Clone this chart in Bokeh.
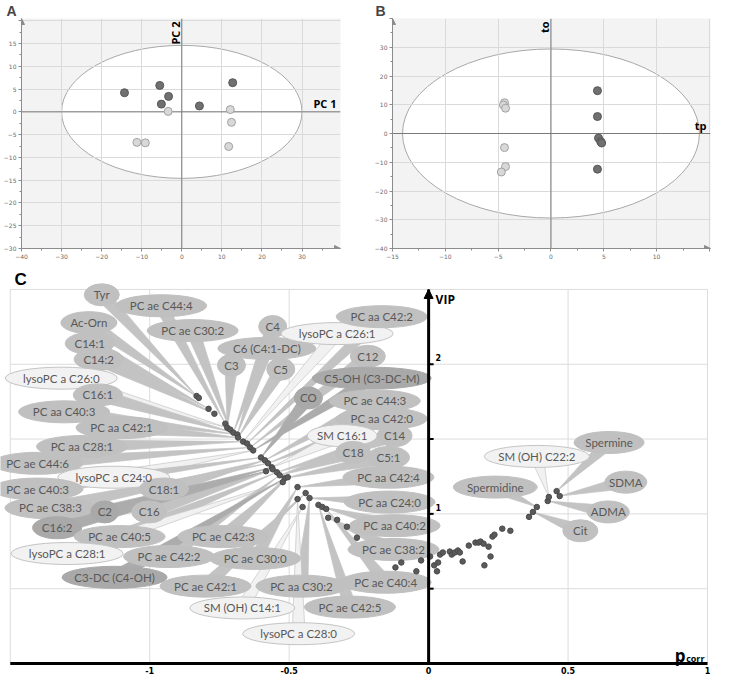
import math
from bokeh.plotting import figure
from bokeh.layouts import column, row
from bokeh.models import (Span, Arrow, NormalHead, SingleIntervalTicker, Range1d)
from bokeh.embed import file_html
from bokeh.resources import INLINE
from bokeh.core.properties import value

# ---------------- Panel A : PCA scores ----------------
a_dark_pc1 = [-14.3, -5.5, -3.3, -5.1, 4.4, 12.7]
a_dark_pc2 = [4.2, 5.8, 3.4, 1.7, 1.3, 6.4]
a_light_pc1 = [-3.4, -11.2, -9.1, 12.1, 12.4, 11.7]
a_light_pc2 = [0.1, -6.7, -6.8, 0.5, -2.3, -7.6]
a_t2 = [30.0, 14.6]          # Hotelling T2 ellipse semi-axes

# ---------------- Panel B : OPLS-DA scores ----------------
b_dark_tp = [4.4, 4.4, 4.5, 4.7, 4.8, 4.4]
b_dark_to = [14.9, 5.9, -1.6, -2.8, -3.3, -12.4]
b_light_tp = [-4.4, -4.5, -4.3, -4.4, -4.3, -4.7]
b_light_to = [10.7, 9.9, 8.8, -4.9, -11.5, -13.4]
b_t2 = [14.05, 29.4]

# ---------------- Panel C : VIP vs p(corr) ----------------
c_pcorr = [-0.832, -0.824, -0.789, -0.768, -0.729, -0.722, -0.711, -0.700, -0.686, -0.683,
           -0.665, -0.651, -0.640, -0.629, -0.601, -0.587, -0.576, -0.562, -0.559, -0.583,
           -0.544, -0.534, -0.516, -0.523, -0.505, -0.470, -0.441, -0.427, -0.470, -0.452,
           -0.395, -0.381, -0.367, -0.360, -0.328, -0.293, -0.257, -0.119, -0.098, -0.044,
           -0.027, 0.005, 0.020, 0.034, 0.030, 0.041, 0.051, 0.076, 0.083, 0.094,
           0.105, 0.112, 0.122, 0.144, 0.168, 0.179, 0.186, 0.197, 0.215, 0.222,
           0.200, 0.229, 0.236, 0.264, 0.293, 0.360, 0.374, 0.388, 0.427, 0.431,
           0.459, 0.470]
c_vip = [1.788, 1.775, 1.702, 1.669, 1.603, 1.576, 1.563, 1.543, 1.530, 1.510,
         1.483, 1.470, 1.444, 1.424, 1.377, 1.358, 1.338, 1.311, 1.298, 1.285,
         1.278, 1.258, 1.238, 1.212, 1.245, 1.179, 1.139, 1.106, 1.099, 1.046,
         1.060, 1.046, 1.033, 0.974, 0.960, 0.914, 0.841, 0.642, 0.675, 0.616,
         0.689, 0.715, 0.656, 0.675, 0.616, 0.728, 0.742, 0.748, 0.728, 0.742,
         0.755, 0.742, 0.682, 0.788, 0.808, 0.808, 0.815, 0.801, 0.781, 0.715,
         0.656, 0.848, 0.861, 0.901, 0.887, 0.980, 1.013, 1.046, 1.086, 1.113,
         1.152, 1.119]
c_xticks = [-1, -0.5, 0, 0.5, 1]
c_xtick_labels = ["-1", "-0.5", "0", "0.5", "1"]
c_xgrid = [-1.5, -1, -0.5, 0.5, 1]
c_ygrid = [0.5, 1, 1.5, 2, 2.5]
c_vip_ticks = [0.5, 1, 1.5, 2]
c_vip_tick_labels = [("1", 1), ("2", 2)]

label_names = ["Tyr", "PC ae C44:4", "Ac-Orn", "PC ae C30:2", "C14:1", "C14:2",
               "lysoPC a C26:0", "C16:1", "PC aa C40:3", "PC aa C42:1", "PC aa C28:1",
               "PC ae C44:6", "lysoPC a C24:0", "PC ae C40:3", "C18:1", "PC ae C38:3",
               "C2", "C16", "C16:2", "PC ae C40:5", "lysoPC a C28:1", "PC ae C42:2",
               "C3-DC (C4-OH)", "PC ae C42:3", "PC ae C30:0", "PC ae C42:1",
               "SM (OH) C14:1", "PC aa C30:2", "lysoPC a C28:0", "PC ae C42:5",
               "PC ae C40:4", "PC ae C38:2", "PC aa C40:2", "PC aa C24:0", "PC aa C42:4",
               "C4", "C6 (C4:1-DC)", "C3", "C5", "lysoPC a C26:1", "PC aa C42:2", "C12",
               "C5-OH (C3-DC-M)", "CO", "PC ae C44:3", "PC aa C42:0", "SM C16:1", "C14",
               "C18", "C5:1", "Spermine", "SM (OH) C22:2", "SDMA", "ADMA", "Spermidine", "Cit"]
label_target = [0, 4, 1, 6, 2, 3, 5, 7, 8, 9, 10, 12, 13, 14, 15, 16, 17, 18, 19, 20,
                23, 21, 22, 24, 25, 26, 29, 27, 28, 30, 32, 33, 31, 27, 25,
                7, 8, 5, 9, 10, 11, 12, 13, 14, 15, 16, 17, 20, 21, 22,
                70, 69, 71, 68, 67, 66]
# label anchor positions (layout, in data units)
label_x = [-1.172, -0.959, -1.218, -0.846, -1.215, -1.183, -1.317, -1.186, -1.307, -1.101,
           -1.243, -1.402, -1.129, -1.402, -0.949, -1.356, -1.161, -1.002, -1.332, -1.108,
           -1.296, -0.931, -1.126, -0.736, -0.622, -0.800, -0.668, -0.456, -0.466, -0.282,
           -0.154, -0.126, -0.122, -0.140, -0.144,
           -0.559, -0.580, -0.707, -0.530, -0.328, -0.168, -0.218, -0.204, -0.431, -0.193,
           -0.168, -0.310, -0.122, -0.271, -0.144,
           0.647, 0.388, 0.707, 0.644, 0.239, 0.544]
label_y = [2.464, 2.391, 2.278, 2.225, 2.139, 2.033, 1.907, 1.795, 1.682, 1.576,
           1.450, 1.338, 1.245, 1.166, 1.166, 1.040, 1.013, 1.013, 0.907, 0.848,
           0.735, 0.715, 0.576, 0.848, 0.702, 0.517, 0.371, 0.517, 0.199, 0.377,
           0.543, 0.762, 0.921, 1.079, 1.245,
           2.252, 2.106, 1.993, 1.967, 2.205, 2.318, 2.053, 1.907, 1.775, 1.755,
           1.636, 1.523, 1.523, 1.411, 1.377,
           1.477, 1.384, 1.212, 1.013, 1.179, 0.887]
dark_labels = {"C3-DC (C4-OH)", "C16:2", "CO", "C5-OH (C3-DC-M)", "C2"}

W, H_TOP, H_C = 714, 268, 408
AXC = "#8c8c8c"


def score_panel(letter, width, xr, yr, xint, yint, t2, dark, light, xname, yname,
                bl, br, title_off):
    p = figure(width=width, height=H_TOP, x_range=Range1d(*xr), y_range=Range1d(*yr),
               output_backend="svg", toolbar_location=None,
               min_border_left=bl, min_border_right=br, min_border_top=0,
               min_border_bottom=20, background_fill_color="#f3f3f3",
               border_fill_color="white", outline_line_color=None)
    p.title.text = letter
    p.title.align = "left"
    p.title.offset = title_off
    p.title.standoff = 0
    p.title.text_font = "Liberation Sans"
    p.title.text_font_style = "bold"
    p.title.text_font_size = "14px"
    e = p.ellipse(x=[0], y=[0], width=[2 * t2[0]], height=[2 * t2[1]],
                  fill_color="white", line_color="#a8a8a8", line_width=1)
    e.level = "image"
    p.xaxis.ticker = SingleIntervalTicker(interval=xint, num_minor_ticks=2)
    p.yaxis.ticker = SingleIntervalTicker(interval=yint, num_minor_ticks=2)
    p.xgrid.ticker = SingleIntervalTicker(interval=xint)
    p.ygrid.ticker = SingleIntervalTicker(interval=yint)
    for g in (p.xgrid, p.ygrid):
        g.grid_line_color = "#dadada"
        g.grid_line_width = 1
    for ax in (p.xaxis, p.yaxis):
        ax.axis_line_color = AXC
        ax.major_tick_line_color = AXC
        ax.minor_tick_line_color = AXC
        ax.major_tick_in = 0
        ax.major_tick_out = 3
        ax.minor_tick_in = 0
        ax.minor_tick_out = 2
        ax.major_label_text_font = "DejaVu Sans"
        ax.major_label_text_font_size = "6px"
        ax.major_label_text_color = "#6a6a6a"
        ax.major_label_standoff = 2
    # hide labels at the arrow ends
    top_hidden = math.floor(yr[1] / yint) * yint
    right_hidden = math.floor(xr[1] / xint) * xint
    p.yaxis.major_label_overrides = {top_hidden: ""} if top_hidden > yr[1] - yint * 0.3 else {}
    p.xaxis.major_label_overrides = {right_hidden: ""} if right_hidden > xr[1] - xint * 0.3 else {}
    for dim in ("width", "height"):
        s = Span(location=0, dimension=dim, line_color="#7a7a7a", line_width=1)
        s.level = "underlay"
        p.add_layout(s)
    # axis arrows
    p.add_layout(Arrow(end=NormalHead(size=6, fill_color=AXC, line_color=AXC),
                       x_start=xr[0], y_start=yr[1] - (yr[1] - yr[0]) * 0.02,
                       x_end=xr[0], y_end=yr[1], line_color=AXC, line_width=1))
    p.add_layout(Arrow(end=NormalHead(size=6, fill_color=AXC, line_color=AXC),
                       x_start=xr[1] - (xr[1] - xr[0]) * 0.02, y_start=yr[0],
                       x_end=xr[1], y_end=yr[0], line_color=AXC, line_width=1))
    p.scatter(dark[0], dark[1], size=8, fill_color="#707070", line_color="#575757")
    p.scatter(light[0], light[1], size=8, fill_color="#d8d8d8", line_color="#a2a2a2")
    p.text(x=[xr[1]], y=[0], text=[xname], text_align="right", text_baseline="bottom",
           x_offset=-4, y_offset=-1, text_font=value("Open Sans"),
           text_font_style="bold", text_font_size="11px", text_color="black")
    p.text(x=[0], y=[yr[1]], text=[yname], text_align="right", text_baseline="bottom",
           angle=math.pi / 2, x_offset=1, y_offset=3, text_font=value("Open Sans"),
           text_font_style="bold", text_font_size="11px", text_color="black")
    return p


pA = score_panel("A", 360, (-40, 39.6), (-30, 20.5), 10, 5, a_t2,
                 (a_dark_pc1, a_dark_pc2), (a_light_pc1, a_light_pc2), "PC 1", "PC 2",
                 14, 20, -15)
pB = score_panel("B", W - 360, (-15, 15.1), (-40, 40), 5, 10, b_t2,
                 (b_dark_tp, b_dark_to), (b_light_tp, b_light_to), "tp", "to",
                 32, 4, -17)

# ---------------- Panel C ----------------
cx0, cx1, cy0, cy1 = -1.535, 1.025, -0.087, 2.64
gx0, gx1, gy0, gy1 = -1.5, 1.0, 0.0, 2.5       # plotted region limits
pC = figure(width=W, height=H_C, x_range=Range1d(cx0, cx1), y_range=Range1d(cy0, cy1),
            output_backend="svg", toolbar_location=None,
            x_axis_type=None, y_axis_type=None,
            min_border_left=0, min_border_right=0, min_border_top=0, min_border_bottom=0,
            background_fill_color="white", border_fill_color="white",
            outline_line_color=None)
GRID = "#dcdcdc"
pC.segment(x0=c_xgrid, y0=[gy0] * len(c_xgrid), x1=c_xgrid, y1=[gy1] * len(c_xgrid),
           line_color=GRID, line_width=1)
pC.segment(x0=[gx0] * len(c_ygrid), y0=c_ygrid, x1=[gx1] * len(c_ygrid), y1=c_ygrid,
           line_color=GRID, line_width=1)

# callout wedges
sx = W / (cx1 - cx0)
sy = H_C / (cy1 - cy0)
light_flags = [n.startswith("lysoPC") or n.startswith("SM") for n in label_names]
wx, wy, wfill, wline = [], [], [], []
for n, lx, ly, t, lt in zip(label_names, label_x, label_y, label_target, light_flags):
    px, py = c_pcorr[t], c_vip[t]
    dx, dy = (lx - px) * sx, (ly - py) * sy
    L = math.hypot(dx, dy)
    nx, ny = -dy / L, dx / L
    hw = 6.5
    wx.append([px, lx + nx * hw / sx, lx - nx * hw / sx])
    wy.append([py, ly + ny * hw / sy, ly - ny * hw / sy])
    if lt:
        wfill.append("#f1f1f1"); wline.append("#c6c6c6")
    elif n in dark_labels:
        wfill.append("#acacac"); wline.append("#acacac")
    else:
        wfill.append("#c3c3c3"); wline.append("#c3c3c3")
pC.patches(wx, wy, fill_color=wfill, line_color=wline, line_width=0.7)

ell_w = [max(24, 7.0 * len(n) + 14) for n in label_names]
ell_fill = ["#f2f2f2" if lt else ("#a9a9a9" if n in dark_labels else "#c0c0c0")
            for n, lt in zip(label_names, light_flags)]
ell_line = ["#c4c4c4" if lt else f for f, lt in zip(ell_fill, light_flags)]
pC.ellipse(x=label_x, y=label_y, width=ell_w, height=22, width_units="screen",
           height_units="screen", fill_color=ell_fill, line_color=ell_line, line_width=1)

pC.scatter(c_pcorr, c_vip, size=5.5, fill_color="#5a5a5a", line_color="#4a4a4a")

pC.text(x=label_x, y=label_y, text=label_names, text_align="center",
        text_baseline="middle", text_font=value("Lato"), text_font_size="11.5px",
        text_color="#585858")

# p(corr) axis along VIP = 0
pC.segment(x0=[gx0], y0=[gy0], x1=[gx1], y1=[gy0], line_color="black", line_width=3)
pC.text(x=c_xticks, y=[gy0] * len(c_xticks), text=c_xtick_labels, y_offset=4,
        text_baseline="top", text_align="center", text_font=value("DejaVu Sans"),
        text_font_style="bold", text_font_size="8px", text_color="black")
# VIP axis at p(corr) = 0
pC.segment(x0=[0], y0=[gy0], x1=[0], y1=[gy1], line_color="black", line_width=3)
pC.add_layout(Arrow(end=NormalHead(size=9, fill_color="black", line_color="black"),
                    x_start=0, y_start=gy1 - 0.05, x_end=0, y_end=gy1,
                    line_color="black", line_width=3))
pC.segment(x0=[0] * len(c_vip_ticks), y0=c_vip_ticks, x1=[5 / sx] * len(c_vip_ticks),
           y1=c_vip_ticks, line_color="black", line_width=2)
pC.text(x=[0] * len(c_vip_tick_labels), y=[v for _, v in c_vip_tick_labels],
        text=[t for t, _ in c_vip_tick_labels], x_offset=7, y_offset=-3,
        text_baseline="bottom", text_align="left", text_font=value("DejaVu Sans"),
        text_font_style="bold", text_font_size="8px", text_color="black")
pC.text(x=[0], y=[gy1], text=["VIP"], x_offset=7, y_offset=2, text_baseline="top",
        text_align="left", text_font=value("Open Sans"), text_font_style="bold",
        text_font_size="12px", text_color="black")
pC.text(x=[gx1], y=[gy0], text=["p"], x_offset=-22, y_offset=-8, text_baseline="alphabetic",
        text_align="right", text_font=value("Open Sans"), text_font_style="bold",
        text_font_size="17px", text_color="black")
pC.text(x=[gx1], y=[gy0], text=["corr"], x_offset=-3, y_offset=-5, text_baseline="alphabetic",
        text_align="right", text_font=value("Open Sans"), text_font_style="bold",
        text_font_size="9px", text_color="black")
pC.text(x=[cx0], y=[cy1], text=["C"], x_offset=14, y_offset=1, text_baseline="top",
        text_align="left", text_font=value("Liberation Sans"), text_font_style="bold",
        text_font_size="17px", text_color="black")

layout = column(row(pA, pB), pC)
open("out.html", "w").write(file_html(layout, INLINE))
